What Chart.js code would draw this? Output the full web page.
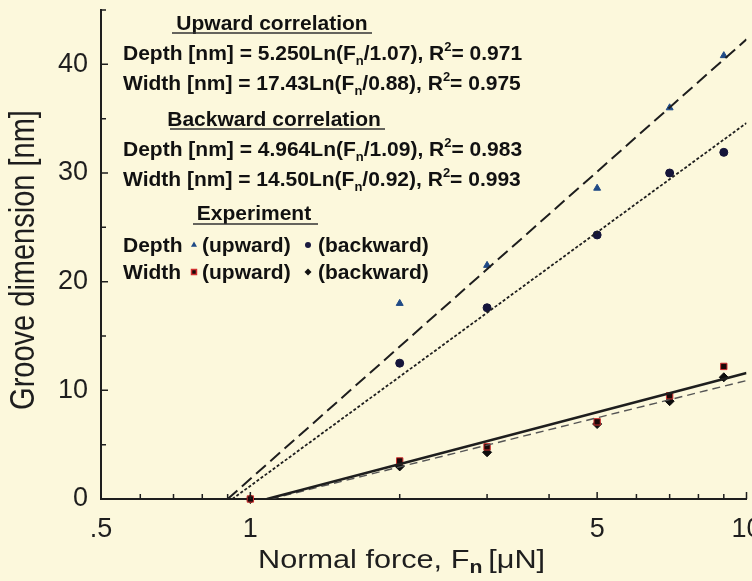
<!DOCTYPE html>
<html>
<head>
<meta charset="utf-8">
<script src="https://cdn.jsdelivr.net/npm/chart.js@4.4.1/dist/chart.umd.min.js"></script>
<style>
  html, body { margin: 0; padding: 0; background: #fcf8dc; }
  #wrap { width: 752px; height: 581px; }
</style>
</head>
<body>
<div id="wrap"><canvas id="groove" width="752" height="581"></canvas></div>
<script>
// experiment: normal force (uN) and groove dimension (nm)
var forces = [1, 2, 3, 5, 7, 9];
var depthUpward = [null, 18.0, 21.5, 28.6, 36.0, 40.8];
var depthBackward = [null, 12.5, 17.6, 24.3, 30.0, 31.9];
var widthUpward = [0, 3.5, 4.8, 7.1, 9.5, 12.2];
var widthBackward = [0, 3.0, 4.3, 6.9, 9.0, 11.2];

// fitted log curves (straight on the log axis), ends
var fitLongDashX = [0.90, 10];
var fitLongDashY = [0, 42.3];
var fitDottedX = [0.92, 10];
var fitDottedY = [0, 34.6];
var fitSolidX = [1.08, 10];
var fitSolidY = [0, 11.6];
var fitThinDashX = [1.10, 10];
var fitThinDashY = [0, 10.9];

// axes
var xTickValues = [0.5, 1, 5, 10];
var xTickLabels = ['.5', '1', '5', '10'];
var xMinorTicks = [0.6, 0.7, 0.8, 0.9, 2, 3, 4, 6, 7, 8, 9];
var yTickValues = [0, 10, 20, 30, 40];
var yMinorTicks = [5, 15, 25, 35, 45];

var FONT = '"Liberation Sans", Arial, Helvetica, sans-serif';
var INK = '#1e1e1e';

function toPoints(xs, ys) {
    var out = [];
    for (var i = 0; i < xs.length; i++) {
        if (ys[i] !== null) out.push({ x: xs[i], y: ys[i] });
    }
    return out;
}

function fitLine(xs, ys, width, dash, color) {
    return {
        type: 'line',
        data: toPoints(xs, ys),
        borderColor: color || INK,
        borderWidth: width,
        borderDash: dash,
        pointRadius: 0,
        fill: false,
        tension: 0
    };
}

function drawRich(ctx, parts, x, y, size) {
    parts.forEach(function (p) {
        var kind = p[1] || '';
        var fs = kind ? Math.round(size * 0.62) : size;
        var dy = kind === 'sub' ? size * 0.22 : (kind === 'sup' ? -size * 0.42 : 0);
        ctx.font = 'bold ' + fs + 'px ' + FONT;
        ctx.fillText(p[0], x, y + dy);
        x += ctx.measureText(p[0]).width;
    });
    return x;
}

function heading(ctx, text, cx, y, ux0, ux1, uy) {
    ctx.font = 'bold 21px ' + FONT;
    ctx.textAlign = 'center';
    ctx.fillText(text, cx, y);
    ctx.textAlign = 'left';
    ctx.strokeStyle = '#333';
    ctx.lineWidth = 1.5;
    ctx.beginPath();
    ctx.moveTo(ux0, uy);
    ctx.lineTo(ux1, uy);
    ctx.stroke();
}

function marker(ctx, style, color, border, x, y, r) {
    ctx.fillStyle = color;
    ctx.strokeStyle = border || color;
    Chart.helpers.drawPoint(ctx, { pointStyle: style, radius: r, borderWidth: border ? 1 : 0, rotation: 0 }, x, y);
}

var paper = {
    id: 'paper',
    beforeDraw: function (chart) {
        var ctx = chart.ctx;
        ctx.save();
        ctx.fillStyle = '#fcf8dc';
        ctx.fillRect(0, 0, chart.width, chart.height);
        ctx.restore();
    },
    afterDraw: function (chart) {
        var ctx = chart.ctx;
        var xs = chart.scales.x, ys = chart.scales.y;
        var area = chart.chartArea;
        ctx.save();

        // inward ticks
        ctx.strokeStyle = INK;
        ctx.lineWidth = 1.5;
        ctx.beginPath();
        xTickValues.forEach(function (v) {
            var px = xs.getPixelForValue(v);
            ctx.moveTo(px, area.bottom); ctx.lineTo(px, area.bottom - 7);
        });
        xMinorTicks.forEach(function (v) {
            var px = xs.getPixelForValue(v);
            ctx.moveTo(px, area.bottom); ctx.lineTo(px, area.bottom - 5);
        });
        yTickValues.forEach(function (v) {
            var py = ys.getPixelForValue(v);
            ctx.moveTo(area.left, py); ctx.lineTo(area.left + 7, py);
        });
        yMinorTicks.forEach(function (v) {
            var py = ys.getPixelForValue(v);
            ctx.moveTo(area.left, py); ctx.lineTo(area.left + 5, py);
        });
        ctx.stroke();

        // axis titles (the figure is a bit stretched sideways)
        ctx.fillStyle = INK;
        ctx.textBaseline = 'alphabetic';
        ctx.save();
        ctx.translate(34, 260);
        ctx.scale(1.2, 1);
        ctx.rotate(-Math.PI / 2);
        ctx.textAlign = 'center';
        ctx.font = '29px ' + FONT;
        ctx.fillText('Groove dimension [nm]', 0, 0);
        ctx.restore();

        ctx.save();
        ctx.translate(258, 568);
        ctx.scale(1.18, 1);
        ctx.font = '26px ' + FONT;
        var tx = 0;
        ctx.fillText('Normal force, F', tx, 0);
        tx += ctx.measureText('Normal force, F').width;
        ctx.font = 'bold 18px ' + FONT;
        ctx.fillText('n', tx, 5);
        tx += ctx.measureText('n ').width;
        ctx.font = '26px ' + FONT;
        ctx.fillText('[\u03BCN]', tx, 0);
        ctx.restore();

        // correlation notes
        ctx.fillStyle = '#111';
        heading(ctx, 'Upward correlation', 272, 30, 172, 372, 33);
        drawRich(ctx, [['Depth [nm] = 5.250Ln(F'], ['n', 'sub'], ['/1.07), R'], ['2', 'sup'], ['= 0.971']], 123, 60, 21);
        ctx.fillStyle = '#111';
        drawRich(ctx, [['Width [nm] = 17.43Ln(F'], ['n', 'sub'], ['/0.88), R'], ['2', 'sup'], ['= 0.975']], 123, 90, 21);
        heading(ctx, 'Backward correlation', 274, 126, 170, 385, 129);
        drawRich(ctx, [['Depth [nm] = 4.964Ln(F'], ['n', 'sub'], ['/1.09), R'], ['2', 'sup'], ['= 0.983']], 123, 156, 21);
        drawRich(ctx, [['Width [nm] = 14.50Ln(F'], ['n', 'sub'], ['/0.92), R'], ['2', 'sup'], ['= 0.993']], 123, 186, 21);
        heading(ctx, 'Experiment', 254, 220, 193, 318, 224);

        ctx.font = 'bold 21px ' + FONT;
        ctx.fillText('Depth', 123, 252);
        ctx.fillText('(upward)', 202, 252);
        ctx.fillText('(backward)', 318, 252);
        ctx.fillText('Width', 123, 279);
        ctx.fillText('(upward)', 202, 279);
        ctx.fillText('(backward)', 318, 279);
        marker(ctx, 'triangle', '#1f4a86', null, 194, 245, 3.5);
        marker(ctx, 'circle', '#1a1a40', null, 308, 245, 3);
        marker(ctx, 'rect', '#1a0808', '#d03030', 194, 272, 3.5);
        marker(ctx, 'rectRot', '#111', null, 308, 272, 3.5);

        ctx.restore();
    }
};

var ctx = document.getElementById('groove').getContext('2d');

new Chart(ctx, {
    type: 'scatter',
    data: {
        datasets: [
            fitLine(fitLongDashX, fitLongDashY, 2, [13, 6]),
            fitLine(fitDottedX, fitDottedY, 1.8, [3, 2]),
            fitLine(fitSolidX, fitSolidY, 2.5, []),
            fitLine(fitThinDashX, fitThinDashY, 1.4, [8, 5], '#555'),
            {
                label: 'Depth (upward)',
                data: toPoints(forces, depthUpward),
                pointStyle: 'triangle',
                pointRadius: 4,
                backgroundColor: '#1f4a86',
                borderColor: '#1f4a86',
                clip: false
            },
            {
                label: 'Depth (backward)',
                data: toPoints(forces, depthBackward),
                pointStyle: 'circle',
                pointRadius: 4,
                backgroundColor: '#15153a',
                borderColor: '#15153a',
                clip: false
            },
            {
                label: 'Width (upward)',
                data: toPoints(forces, widthUpward),
                pointStyle: 'rect',
                pointRadius: 4.5,
                backgroundColor: '#1a0808',
                borderColor: '#d03030',
                borderWidth: 1,
                clip: false
            },
            {
                label: 'Width (backward)',
                data: toPoints(forces, widthBackward),
                pointStyle: 'rectRot',
                pointRadius: 4.5,
                backgroundColor: '#0d0d0d',
                borderColor: '#0d0d0d',
                clip: false
            }
        ]
    },
    options: {
        responsive: false,
        animation: false,
        layout: { padding: { top: 10, right: 3, left: 0, bottom: 0 } },
        plugins: {
            legend: { display: false },
            tooltip: { enabled: false }
        },
        scales: {
            x: {
                type: 'logarithmic',
                min: 0.5,
                max: 10,
                grid: { display: false, drawTicks: false },
                border: { display: true, color: INK, width: 2 },
                afterBuildTicks: function (scale) {
                    scale.ticks = xTickValues.map(function (v) { return { value: v }; });
                },
                afterFit: function (scale) {
                    scale.height = 82;
                    scale.paddingLeft = 0;
                    scale.paddingRight = 0;
                },
                ticks: {
                    autoSkip: false,
                    maxRotation: 0,
                    padding: 14,
                    color: INK,
                    font: { family: FONT, size: 27 },
                    callback: function (v, i) { return xTickLabels[i]; }
                }
            },
            y: {
                min: 0,
                max: 45,
                grid: { display: false, drawTicks: false },
                border: { display: true, color: INK, width: 2 },
                afterBuildTicks: function (scale) {
                    scale.ticks = yTickValues.map(function (v) { return { value: v }; });
                },
                afterFit: function (scale) {
                    scale.width = 101;
                    scale.paddingTop = 0;
                    scale.paddingBottom = 0;
                },
                ticks: {
                    padding: 13,
                    color: INK,
                    font: { family: FONT, size: 27 }
                }
            }
        }
    },
    plugins: [paper]
});
</script>
</body>
</html>
